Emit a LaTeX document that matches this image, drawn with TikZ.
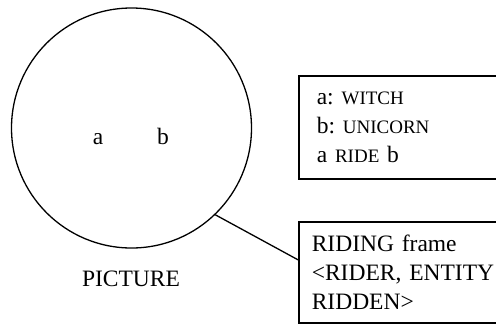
\documentclass[tikz,border=0pt]{standalone}
\usepackage{fontspec}
\setmainfont{Liberation Serif}
\frenchspacing
\newcommand\smc[1]{{\fontsize{19}{19}\selectfont #1}}
\begin{document}
\begin{tikzpicture}[x=1pt,y=-1pt,line cap=round,
    every node/.style={font=\fontsize{23.5}{29}\selectfont},
    box/.style={draw,line width=1.6pt,anchor=north west,text width=220pt,align=left}]
  \path[use as bounding box,clip] (0,0) rectangle (496,325);
  \node[circle,draw,line width=1.3pt,minimum size=240pt,inner sep=0pt] (pic) at (131.5,128) {};
  \node[anchor=base] (a) at (98,144) {a};
  \node[anchor=base] (b) at (163,144) {b};
  \node[anchor=base] (name) at (131,286) {PICTURE};
  \node[box,minimum height=103pt,inner xsep=18pt] (roles) at (298,75)
    {a: \smc{WITCH}\\ b: \smc{UNICORN}\\ a \smc{RIDE} b};
  \node[box,minimum height=101pt,inner xsep=13pt] (frame) at (298,221)
    {RIDING frame\\ <RIDER, ENTITY\\ RIDDEN>};
  \draw[line width=1.3pt] (pic.-46) -- ([yshift=12.5pt]frame.west);
\end{tikzpicture}
\end{document}
